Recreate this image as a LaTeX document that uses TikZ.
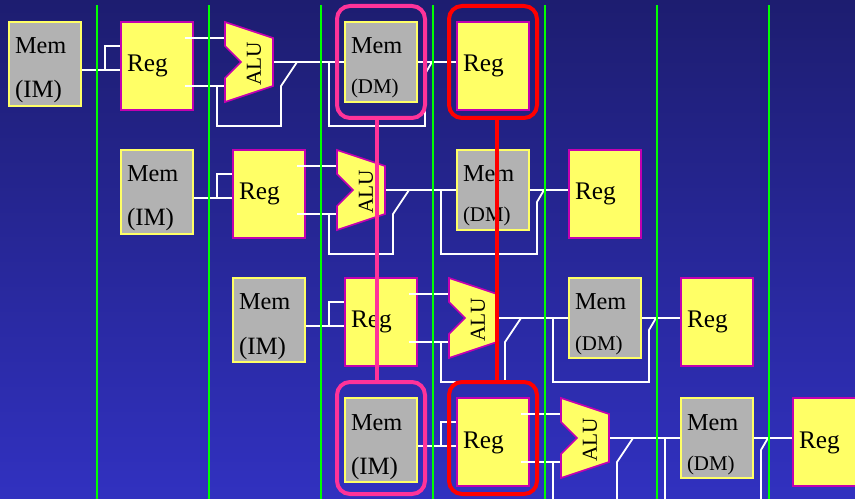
\documentclass[tikz,border=0pt]{standalone}
\usepackage{fontspec}
\setmainfont{Liberation Serif}
\definecolor{bgtop}{RGB}{29,29,112}
\definecolor{bgbot}{RGB}{49,49,192}
\definecolor{memfill}{RGB}{178,178,178}
\definecolor{regfill}{RGB}{255,255,102}
\definecolor{regline}{RGB}{196,0,176}
\definecolor{hlpink}{RGB}{255,51,153}
\tikzset{
  x=1bp,y=-1bp,
  wire/.style={draw=white,line width=1.8bp},
  guide/.style={draw=green,line width=2bp},
  membox/.style={draw=regfill,fill=memfill,line width=1.4bp,minimum width=72bp,inner sep=0,outer sep=0},
  regbox/.style={draw=regline,fill=regfill,line width=1.6bp,minimum width=72bp,minimum height=88bp,inner sep=0,outer sep=0},
  alubody/.style={draw=regline,fill=regfill,line width=1.6bp,line join=miter},
  lab/.style={anchor=base west,inner sep=0,outer sep=0,text=black},
  pinkring/.style={draw=hlpink,line width=4bp,rounded corners=13bp,inner sep=0,minimum width=88bp,minimum height=112bp},
  redring/.style={draw=red,line width=4bp,rounded corners=13bp,inner sep=0,minimum width=88bp,minimum height=112bp},
}
\begin{document}
\begin{tikzpicture}
\useasboundingbox (0,0) rectangle (855,499);
\clip (0,0) rectangle (855,499);
\shade[top color=bgtop,bottom color=bgbot] (0,0) rectangle (855,499);
\foreach \r/\dx/\dy in {0/0/0,1/112/128,2/224/256,3/336/376}{
\begin{scope}[shift={(\dx,\dy)}]
  % coordinates of the wiring
  \coordinate (a\r) at (81,70);
  \coordinate (b\r) at (105,70);
  \coordinate (c\r) at (105,46);
  \coordinate (d\r) at (121,46);
  \coordinate (e\r) at (121,70);
  \coordinate (f\r) at (185,38);
  \coordinate (g\r) at (225,38);
  \coordinate (h\r) at (185,86);
  \coordinate (i\r) at (225,86);
  \coordinate (j\r) at (217,86);
  \coordinate (k\r) at (217,126);
  \coordinate (l\r) at (281,126);
  \coordinate (m\r) at (281,86);
  \coordinate (n\r) at (297,62);
  \coordinate (o\r) at (273,62);
  \coordinate (p\r) at (345,62);
  \coordinate (q\r) at (329,62);
  \coordinate (s\r) at (329,126);
  \coordinate (t\r) at (425,126);
  \coordinate (u\r) at (425,74);
  \coordinate (v\r) at (432,62);
  \coordinate (w\r) at (417,62);
  \coordinate (y\r) at (457,62);
  \draw[wire] (a\r) -- (e\r);
  \draw[wire] (b\r) -- (c\r) -- (d\r);
  \node[membox,minimum height=84bp] (im\r) at (45,64) {};
  \node[lab,font=\fontsize{24.4}{24}\selectfont] (imA\r) at (15,54) {Mem};
  \node[lab,font=\fontsize{25}{25}\selectfont] (imB\r) at (15,98) {(IM)};
  \node[regbox] (rg\r) at (157,66) {};
  \node[lab,font=\fontsize{25.4}{25}\selectfont] (rgA\r) at (127,72) {Reg};
  \draw[wire] (f\r) -- (g\r);
  \draw[wire] (h\r) -- (i\r);
  \draw[wire] (j\r) -- (k\r) -- (l\r) -- (m\r) -- (n\r);
  \draw[wire] (o\r) -- (p\r);
  \draw[alubody] (225,22) -- (273,38) -- (273,86) -- (225,102) -- (225,78) -- (241,62) -- (225,46) -- cycle;
  \node[rotate=90,inner sep=0,text=black,font=\fontsize{21.4}{21}\selectfont] (al\r) at (254,64) {ALU};
  \draw[wire] (q\r) -- (s\r) -- (t\r) -- (u\r) -- (v\r);
  \draw[wire] (w\r) -- (y\r);
  \node[membox,minimum height=80bp] (dm\r) at (381,62) {};
  \node[lab,font=\fontsize{24.4}{24}\selectfont] (dmA\r) at (351,54) {Mem};
  \node[lab,font=\fontsize{21}{21}\selectfont] (dmB\r) at (351,94) {(DM)};
  \node[regbox] (wb\r) at (493,66) {};
  \node[lab,font=\fontsize{25.4}{25}\selectfont] (wbA\r) at (463,72) {Reg};
\end{scope}
}
\foreach \x in {97,209,321,433,545,657,769}{
  \draw[guide] (\x,5) -- (\x,499);
}
\node[pinkring] (pt) at (381,62) {};
\node[redring] (rt) at (493,62) {};
\node[pinkring] (pb) at (381,438) {};
\node[redring] (rb) at (493,438) {};
\draw[draw=hlpink,line width=4bp] (pt.south -| 377,0) -- (pb.north -| 377,0);
\draw[draw=red,line width=4bp] (rt.south -| 497,0) -- (rb.north -| 497,0);
\end{tikzpicture}
\end{document}
